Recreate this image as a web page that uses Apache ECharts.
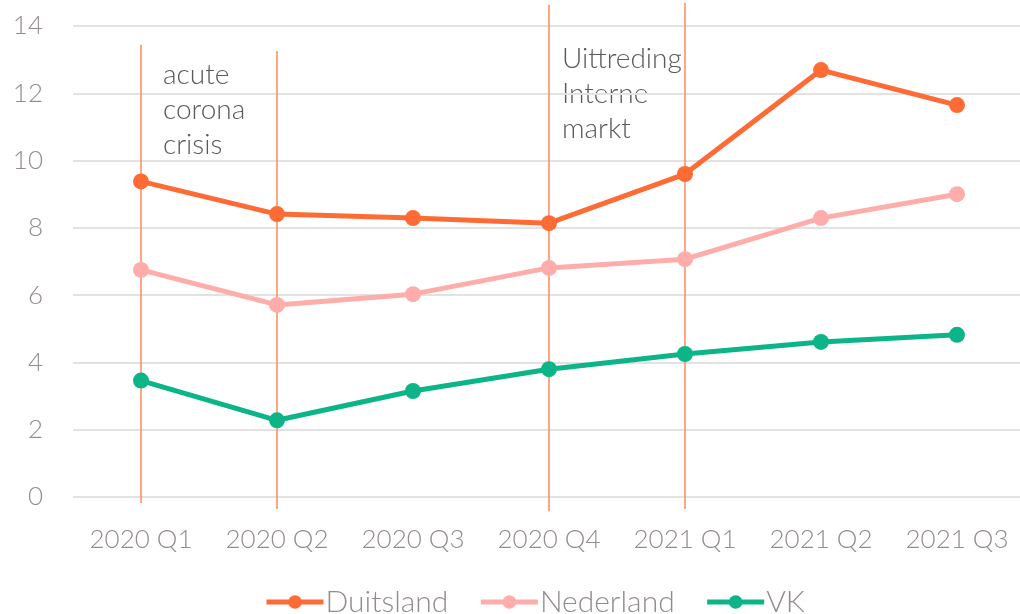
<!DOCTYPE html>
<html>
<head>
<meta charset="utf-8">
<script src="https://cdn.jsdelivr.net/npm/echarts@6/dist/echarts.min.js"></script>
<style>
  html, body { margin: 0; padding: 0; background: #fff; }
  #main { width: 1020px; height: 614px; }
</style>
</head>
<body>
<div id="main"></div>
<script>
var categories = ['2020 Q1', '2020 Q2', '2020 Q3', '2020 Q4', '2021 Q1', '2021 Q2', '2021 Q3'];
var duitsland = [9.38, 8.41, 8.29, 8.14, 9.6, 12.69, 11.65];
var nederland = [6.75, 5.71, 6.03, 6.81, 7.07, 8.29, 9.0];
var vk = [3.46, 2.28, 3.15, 3.8, 4.25, 4.61, 4.82];
var yTicks = [0, 2, 4, 6, 8, 10, 12, 14];
// vertical event lines: [category, top value, bottom value]
var eventLines = [
  ['2020 Q1', 13.44, -0.18],
  ['2020 Q2', 13.26, -0.36],
  ['2020 Q4', 14.63, -0.42],
  ['2021 Q1', 14.69, -0.36]
];
var notes = ['acute\ncorona\ncrisis', 'Uittreding\nInterne\nmarkt'];

var FONT = 'Lato';
var myChart = echarts.init(document.getElementById('main'));

function lineSeries(name, data, color) {
  return {
    name: name,
    type: 'line',
    data: data,
    symbol: 'circle',
    symbolSize: 16,
    lineStyle: { width: 5, color: color },
    itemStyle: { color: color },
    z: 3
  };
}

myChart.setOption({
  animation: false,
  grid: { left: 73, width: 952, top: 26, bottom: 117, outerBoundsMode: 'none' },
  legend: {
    bottom: -8,
    left: 259,
    data: ['Duitsland', 'Nederland', 'VK'],
    itemWidth: 57,
    itemHeight: 17,
    itemGap: 30,
    lineStyle: { width: 5 },
    textStyle: { fontFamily: FONT, fontWeight: 300, fontSize: 30, color: '#948c8c', padding: [0, 0, 0, -3] }
  },
  xAxis: {
    type: 'category',
    data: categories,
    axisLine: { show: false },
    axisTick: { show: false },
    axisLabel: { margin: 30, fontFamily: FONT, fontWeight: 300, fontSize: 26, color: '#948c8c' }
  },
  yAxis: {
    type: 'value',
    min: yTicks[0],
    max: yTicks[yTicks.length - 1],
    interval: 2,
    axisLine: { show: false },
    axisTick: { show: false },
    axisLabel: { margin: 30, fontFamily: FONT, fontWeight: 300, fontSize: 26, color: '#948c8c' },
    splitLine: { lineStyle: { color: '#e2e2e2', width: 2 } }
  },
  graphic: [
    { type: 'text', left: 163, top: 57, style: { text: notes[0], fontFamily: FONT, fontWeight: 300, fontSize: 28, lineHeight: 35, fill: '#595959' } },
    { type: 'text', left: 562, top: 41, style: { text: notes[1], fontFamily: FONT, fontWeight: 300, fontSize: 28, lineHeight: 35, fill: '#595959' } }
  ],
  series: [
    {
      name: 'events',
      type: 'custom',
      clip: false,
      silent: true,
      z: 1,
      data: eventLines,
      encode: { x: 0, y: [1, 2] },
      renderItem: function (params, api) {
        var top = api.coord([api.value(0), api.value(1)]);
        var bottom = api.coord([api.value(0), api.value(2)]);
        return {
          type: 'line',
          shape: { x1: top[0], y1: top[1], x2: bottom[0], y2: bottom[1] },
          style: { stroke: '#ff8a5c', lineWidth: 1.5 }
        };
      }
    },
    lineSeries('Duitsland', duitsland, '#ff6b35'),
    lineSeries('Nederland', nederland, '#ffadab'),
    lineSeries('VK', vk, '#0bb587')
  ]
});
window.onresize = myChart.resize;
</script>
</body>
</html>
